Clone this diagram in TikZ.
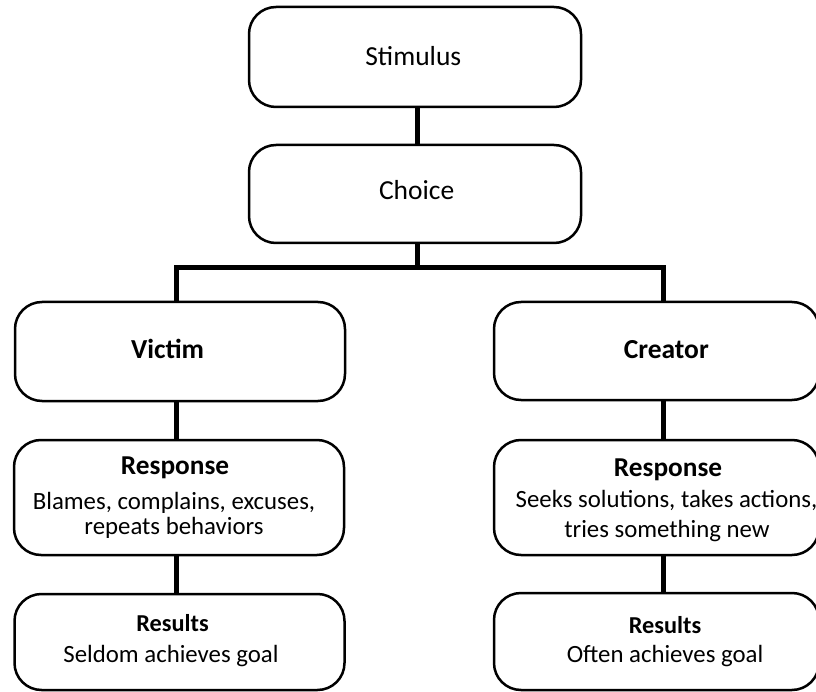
\documentclass[tikz,border=0pt]{standalone}
\usepackage{fontspec}
\setmainfont{Carlito}
\begin{document}
\begin{tikzpicture}[x=1pt, y=-1pt,
  box/.style={draw=black, fill=white, line width=2.5pt, rounded corners=27pt, inner sep=0pt},
  link/.style={draw=black, line width=5pt, line join=miter},
  txt/.style={anchor=base, inner sep=0pt},
  title/.style={txt, font=\fontsize{27.5}{33}\selectfont},
  branch/.style={txt, font=\fontsize{27.5}{33}\selectfont\bfseries},
  head/.style={txt, font=\fontsize{27.3}{33}\selectfont\bfseries},
  reshead/.style={txt, font=\fontsize{24.3}{29}\selectfont\bfseries},
  body/.style={txt, font=\fontsize{24.8}{30}\selectfont}]

\fill[white] (0,0) rectangle (816,692);
\useasboundingbox (0,0) rectangle (816,692);

% column guides for the connectors
\coordinate (colM) at (417,0);
\coordinate (colL) at (176,0);
\coordinate (colR) at (663,0);
\coordinate (bus)  at (0,268);

% boxes
\node[box, minimum width=332pt, minimum height=100pt] (stim)    at (415,57)    {};
\node[box, minimum width=332pt, minimum height=98pt]  (choice)  at (415,194)   {};
\node[box, minimum width=330pt, minimum height=99pt]  (victim)  at (180,351.5) {};
\node[box, minimum width=325pt, minimum height=98pt]  (creator) at (656.5,351) {};
\node[box, minimum width=330pt, minimum height=115pt] (respL)   at (179,497.5) {};
\node[box, minimum width=325pt, minimum height=115pt] (respR)   at (656.5,497.5) {};
\node[box, minimum width=330pt, minimum height=96pt]  (resL)    at (179.5,642) {};
\node[box, minimum width=325pt, minimum height=97pt]  (resR)    at (656.5,641.5) {};

% connectors
\draw[link] (stim.south -| colM) -- (choice.north -| colM);
\draw[link] (choice.south -| colM) -- (bus -| colM);
\draw[link] (victim.north -| colL) |- (bus -| colM) -| (creator.north -| colR);
\draw[link] (victim.south -| colL) -- (respL.north -| colL);
\draw[link] (respL.south -| colL) -- (resL.north -| colL);
\draw[link] (creator.south -| colR) -- (respR.north -| colR);
\draw[link] (respR.south -| colR) -- (resR.north -| colR);

% texts
\node[title]  (stimT)    at (413.3,66)  {Stimulus};
\node[title]  (choiceT)  at (416.7,200) {Choice};
\node[branch] (victimT)  at (167.5,359) {Victim};
\node[branch] (creatorT) at (666.3,359) {Creator};

\node[head] (respLT)  at (175,474) {Response};
\node[body] (respL1)  at (174,509) {Blames, complains, excuses,};
\node[body] (respL2)  at (174,534) {repeats behaviors};

\node[head] (respRT)  at (668,476)   {Response};
\node[body] (respR1)  at (666.5,507) {Seeks solutions, takes actions,};
\node[body] (respR2)  at (667,537)   {tries something new};

\node[reshead] (resLT) at (172.5,631) {Results};
\node[body]    (resL1) at (171,662)   {Seldom achieves goal};

\node[reshead] (resRT) at (665,633) {Results};
\node[body]    (resR1) at (665,662) {Often achieves goal};
\end{tikzpicture}
\end{document}
